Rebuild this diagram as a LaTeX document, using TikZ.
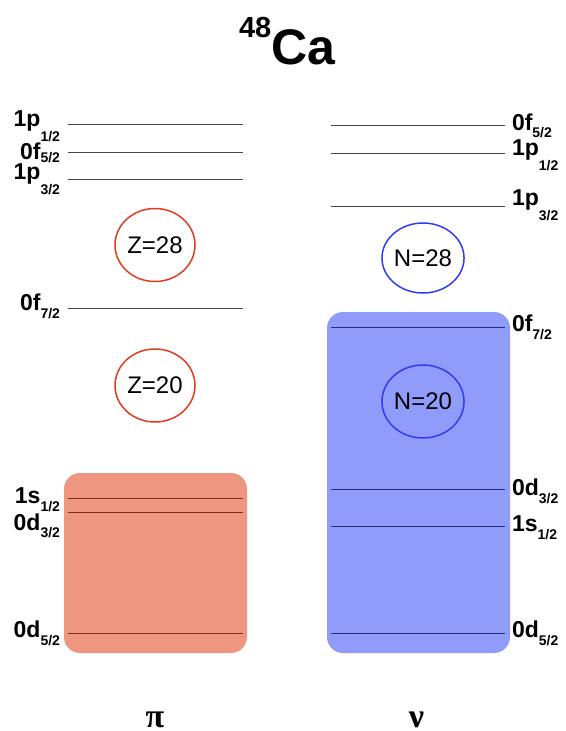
\documentclass[tikz,border=0pt]{standalone}
\usepackage{fontspec}
\setmainfont{Liberation Sans}
\newfontfamily\greekfont{Liberation Serif}
\usetikzlibrary{shapes.geometric}
\definecolor{redfill}{RGB}{238,150,128}
\definecolor{bluefill}{RGB}{145,155,250}
\definecolor{redring}{RGB}{224,60,30}
\definecolor{bluering}{RGB}{46,61,245}
\definecolor{redlevel}{RGB}{140,40,24}
\definecolor{bluelevel}{RGB}{40,46,120}
\definecolor{graylevel}{RGB}{70,70,70}
\newcommand{\lvlabel}[3]{{\fontsize{23}{23}\selectfont\bfseries #1}\raisebox{-#3pt}{\fontsize{14}{14}\selectfont\bfseries #2}}
\newcommand{\nodepth}[1]{\raisebox{0pt}[\height][0pt]{#1}}
\begin{document}
\begin{tikzpicture}[x=1pt,y=-1pt,
  lab/.style={inner sep=0pt,outer sep=0pt},
  leftlab/.style={lab,anchor=base east},
  rightlab/.style={lab,anchor=base west},
  level/.style={line width=1pt,draw=graylevel},
  redlev/.style={line width=1pt,draw=redlevel},
  bluelev/.style={line width=1pt,draw=bluelevel},
  magic/.style={ellipse,draw,line width=1.5pt,minimum width=80pt,minimum height=73pt,inner sep=0pt,font=\fontsize{24}{24}\selectfont},
  greek/.style={inner sep=0pt,anchor=base,font=\greekfont\bfseries\fontsize{34}{34}\selectfont}]
\useasboundingbox (0,0) rectangle (565,731);
% title
\node[lab,anchor=base west] (title) at (239,64) {\fontsize{29}{29}\selectfont\bfseries\raisebox{27pt}{48}\fontsize{50}{50}\selectfont Ca};
% boxes
\fill[redfill,rounded corners=16pt] (64,473) rectangle (247,653);
\fill[bluefill,rounded corners=16pt] (327,312) rectangle (510,653);
% left (proton) levels
\coordinate (pL1) at (68,124.5); \coordinate (pR1) at (243,124.5);
\coordinate (pL2) at (68,152);   \coordinate (pR2) at (243,152);
\coordinate (pL3) at (68,179.5); \coordinate (pR3) at (243,179.5);
\coordinate (pL4) at (68,308.5); \coordinate (pR4) at (243,308.5);
\coordinate (pL5) at (68,498);   \coordinate (pR5) at (243,498);
\coordinate (pL6) at (68,512);   \coordinate (pR6) at (243,512);
\coordinate (pL7) at (68,633);   \coordinate (pR7) at (243,633);
\draw[level] (pL1) -- (pR1);
\draw[level] (pL2) -- (pR2);
\draw[level] (pL3) -- (pR3);
\draw[level] (pL4) -- (pR4);
\draw[redlev] (pL5) -- (pR5);
\draw[redlev] (pL6) -- (pR6);
\draw[redlev] (pL7) -- (pR7);
% right (neutron) levels
\coordinate (nL1) at (331,125.5); \coordinate (nR1) at (505,125.5);
\coordinate (nL2) at (331,153.5); \coordinate (nR2) at (505,153.5);
\coordinate (nL3) at (331,206);   \coordinate (nR3) at (505,206);
\coordinate (nL4) at (331,327.5); \coordinate (nR4) at (505,327.5);
\coordinate (nL5) at (331,489);   \coordinate (nR5) at (505,489);
\coordinate (nL6) at (331,526);   \coordinate (nR6) at (505,526);
\coordinate (nL7) at (331,633);   \coordinate (nR7) at (505,633);
\draw[level] (nL1) -- (nR1);
\draw[level] (nL2) -- (nR2);
\draw[level] (nL3) -- (nR3);
\draw[bluelev] (nL4) -- (nR4);
\draw[bluelev] (nL5) -- (nR5);
\draw[bluelev] (nL6) -- (nR6);
\draw[bluelev] (nL7) -- (nR7);
% left labels
\node[leftlab] (lp1) at (60,126) {\lvlabel{1p}{1/2}{15}};
\node[leftlab] (lp2) at (60,159) {\lvlabel{0f}{5/2}{3}};
\node[leftlab] (lp3) at (60,179) {\lvlabel{1p}{3/2}{15}};
\node[leftlab] (lp4) at (60,310) {\lvlabel{0f}{7/2}{8}};
\node[leftlab] (lp5) at (60,503) {\lvlabel{1s}{1/2}{8}};
\node[leftlab] (lp6) at (60,530) {\lvlabel{0d}{3/2}{7}};
\node[leftlab] (lp7) at (60,637) {\lvlabel{0d}{5/2}{8}};
% right labels
\node[rightlab] (rn1) at (512,130) {\lvlabel{0f}{5/2}{7}};
\node[rightlab] (rn2) at (512,155.5) {\lvlabel{1p}{1/2}{15}};
\node[rightlab] (rn3) at (512,205) {\lvlabel{1p}{3/2}{15}};
\node[rightlab] (rn4) at (512,331.5) {\lvlabel{0f}{7/2}{8}};
\node[rightlab] (rn5) at (512,495) {\lvlabel{0d}{3/2}{8}};
\node[rightlab] (rn6) at (512,531.5) {\lvlabel{1s}{1/2}{8}};
\node[rightlab] (rn7) at (512,637) {\lvlabel{0d}{5/2}{8}};
% magic numbers
\node[magic,draw=redring] (z28) at (155,245) {Z=28};
\node[magic,draw=redring] (z20) at (155,385.5) {Z=20};
\node[magic,draw=bluering,minimum height=70pt] (n28) at (423,258) {N=28};
\node[magic,draw=bluering] (n20) at (423,401.5) {N=20};
% particle symbols
\node[greek] (pi) at (155,727) {\nodepth{π}};
\node[greek] (nu) at (416.5,727) {\nodepth{ν}};
\end{tikzpicture}
\end{document}
